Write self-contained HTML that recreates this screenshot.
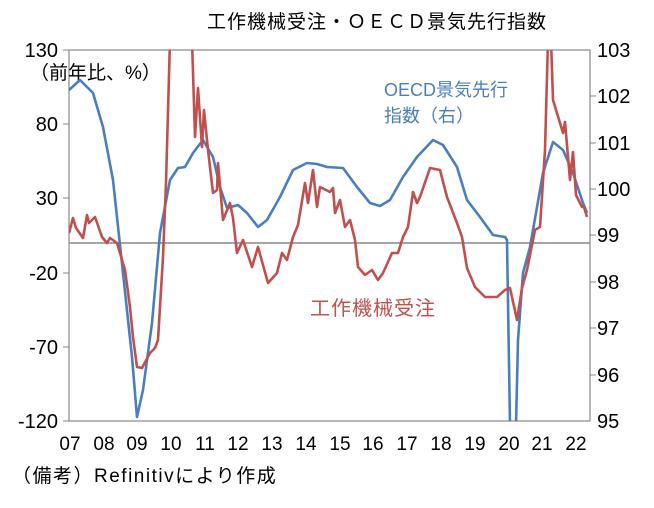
<!DOCTYPE html>
<html><head><meta charset="utf-8"><style>
body{margin:0;background:#fff;}
svg text{font-family:"Liberation Sans","Noto Sans CJK JP",sans-serif;}
</style></head><body>
<svg width="654" height="503" viewBox="0 0 654 503">
<text x="377" y="28" text-anchor="middle" font-size="19" letter-spacing="1" fill="#000">工作機械受注・ＯＥＣＤ景気先行指数</text>
<rect x="69" y="50" width="521" height="371" fill="none" stroke="#888" stroke-width="1.2"/>
<line x1="69" y1="243" x2="590" y2="243" stroke="#888" stroke-width="1.5"/>
<g stroke="#888" stroke-width="1">
<line x1="63" y1="50" x2="69" y2="50"/><line x1="63" y1="124" x2="69" y2="124"/><line x1="63" y1="198" x2="69" y2="198"/><line x1="63" y1="273" x2="69" y2="273"/><line x1="63" y1="347" x2="69" y2="347"/><line x1="63" y1="421" x2="69" y2="421"/>
<line x1="590" y1="96" x2="596" y2="96"/><line x1="590" y1="143" x2="596" y2="143"/><line x1="590" y1="189" x2="596" y2="189"/><line x1="590" y1="235" x2="596" y2="235"/><line x1="590" y1="282" x2="596" y2="282"/><line x1="590" y1="328" x2="596" y2="328"/><line x1="590" y1="375" x2="596" y2="375"/>
</g>
<g font-size="20" fill="#000" text-anchor="end">
<text x="58" y="57">130</text><text x="58" y="131">80</text><text x="58" y="205">30</text><text x="58" y="280">-20</text><text x="58" y="354">-70</text><text x="58" y="428">-120</text>
</g>
<g font-size="20" fill="#000">
<text x="597" y="57">103</text><text x="597" y="103">102</text><text x="597" y="150">101</text><text x="597" y="196">100</text><text x="597" y="242">99</text><text x="597" y="289">98</text><text x="597" y="335">97</text><text x="597" y="382">96</text><text x="597" y="428">95</text>
</g>
<g font-size="19" fill="#000" text-anchor="middle">
<text x="70" y="450">07</text><text x="104" y="450">08</text><text x="137" y="450">09</text><text x="171" y="450">10</text><text x="205" y="450">11</text><text x="238" y="450">12</text><text x="272" y="450">13</text><text x="306" y="450">14</text><text x="340" y="450">15</text><text x="373" y="450">16</text><text x="407" y="450">17</text><text x="441" y="450">18</text><text x="475" y="450">19</text><text x="509" y="450">20</text><text x="542" y="450">21</text><text x="576" y="450">22</text>
</g>
<text x="30" y="79" font-size="19" fill="#000">（前年比、%）</text>
<text x="12" y="482" font-size="19" letter-spacing="1.5" fill="#000">（備考）Refinitivにより作成</text>
<text x="384" y="96" font-size="18" fill="#4a7ebf">OECD景気先行</text>
<text x="384" y="122" font-size="18" fill="#4a7ebf">指数（右）</text>
<text x="310" y="315" font-size="20" letter-spacing="1" fill="#c0504d">工作機械受注</text>
<clipPath id="c"><rect x="69" y="50" width="521" height="371"/></clipPath>
<g clip-path="url(#c)" fill="none" stroke-width="2.6" stroke-linejoin="round">
<polyline stroke="#4a7ebf" points="69,90 80,80 93,93 103,127 113,180 123,273 132,357 137,417 143,390 152,323 160,233 170,180 178,168 185,167 193,153 203,140 213,157 220,187 227,208 238,205 247,213 258,227 267,220 280,197 293,170 307,163 317,164 327,167 343,168 357,187 370,203 380,206 390,200 403,177 417,157 433,140 443,145 457,167 467,200 480,217 493,235 505,237 507,240 510,425 516,425 518,340 523,273 530,247 543,173 553,142 563,150 573,173 583,203 587,213"/>
<polyline stroke="#c0504d" points="69,233 73,218 76,228 83,238 87,215 89,223 95,217 102,237 107,243 110,238 117,243 125,270 130,307 133,337 137,367 142,368 150,353 155,348 158,340 163,257 166,183 170,40 192,40 195,137 198,88 202,147 204,110 208,150 213,193 217,190 218,163 223,220 230,203 233,218 237,253 243,240 252,267 258,247 268,283 277,273 282,253 287,260 293,237 298,225 305,183 308,203 313,170 317,207 320,187 330,192 333,188 335,213 340,200 345,227 350,220 355,240 358,267 365,275 372,270 378,280 383,273 392,253 398,253 403,237 408,227 413,192 417,203 420,197 430,168 440,170 447,197 457,223 462,237 467,268 475,287 485,297 497,297 505,290 510,288 517,320 522,288 527,270 535,230 540,227 545,150 548,40 551,40 553,100 560,123 563,133 565,122 570,180 573,152 576,195 582,207 584,207 587,217"/>
</g>
</svg>
</body></html>
